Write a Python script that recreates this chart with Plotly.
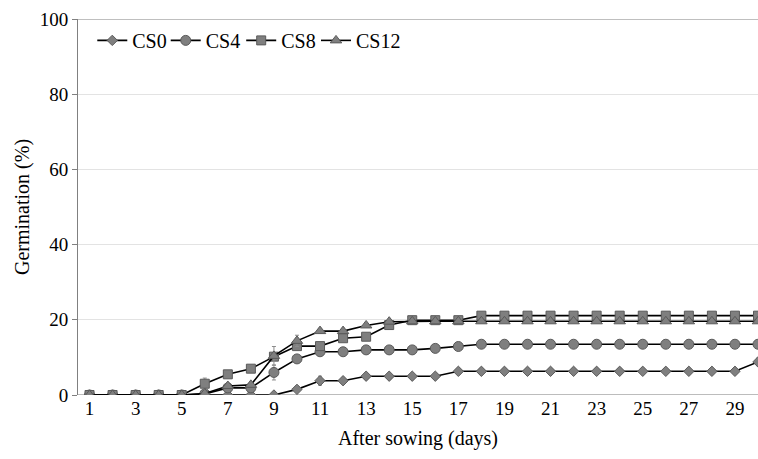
import plotly.graph_objects as go

days = list(range(1, 31))

cs0 = [0, 0, 0, 0, 0, 0, 0, 0, 0, 1.5, 3.8, 3.8, 5.0, 5.0, 5.0, 5.0, 6.3, 6.3, 6.3, 6.3,
       6.3, 6.3, 6.3, 6.3, 6.3, 6.3, 6.3, 6.3, 6.3, 8.8]
cs0_err = [0, 0, 0, 0, 0, 0, 0, 0, 0, 0.3, 1.2, 0, 0.5, 0, 0, 0, 0.5, 0, 0, 0,
           0, 0, 0, 0, 0, 0, 0, 0, 0, 1.0]
cs4 = [0, 0, 0, 0, 0, 0.3, 1.9, 1.9, 6.0, 9.6, 11.5, 11.5, 12.0, 12.0, 12.0, 12.4, 12.9, 13.5, 13.5, 13.5,
       13.5, 13.5, 13.5, 13.5, 13.5, 13.5, 13.5, 13.5, 13.5, 13.5]
cs4_err = [0, 0, 0, 0, 0, 0.3, 0.5, 0.5, 2.0, 0.8, 0.5, 0, 0, 0, 0, 0, 0, 0, 0, 0,
           0, 0, 0, 0, 0, 0, 0, 0, 0, 0]
cs8 = [0, 0, 0, 0, 0, 3.0, 5.5, 7.0, 10.2, 13.0, 13.0, 15.1, 15.5, 18.6, 19.9, 19.9, 19.9, 21.1, 21.1, 21.1,
       21.1, 21.1, 21.1, 21.1, 21.1, 21.1, 21.1, 21.1, 21.1, 21.1]
cs8_err = [0, 0, 0, 0, 0, 1.5, 0.5, 0.5, 1.0, 1.0, 0.5, 0.5, 0.5, 0.5, 0.3, 0.3, 0.3, 0.3, 0, 0,
           0, 0, 0, 0, 0, 0, 0, 0, 0, 0]
cs12 = [0, 0, 0, 0, 0, 0.4, 2.4, 2.7, 10.4, 14.4, 17.0, 17.0, 18.5, 19.5, 19.6, 19.6, 19.6, 19.6, 19.6, 19.6,
        19.6, 19.6, 19.6, 19.6, 19.6, 19.6, 19.6, 19.6, 19.6, 19.6]
cs12_err = [0, 0, 0, 0, 0, 0.5, 0.5, 0.5, 2.5, 1.5, 0.5, 0, 0, 0, 0, 0, 0, 0, 0, 0,
            0, 0, 0, 0, 0, 0, 0, 0, 0, 0]

series = [
    ("CS0", cs0, cs0_err, "diamond", 8),
    ("CS4", cs4, cs4_err, "circle", 10),
    ("CS8", cs8, cs8_err, "square", 9),
    ("CS12", cs12, cs12_err, "triangle-up", 10),
]

x_ticks = list(range(1, 30, 2))
y_ticks = [0, 20, 40, 60, 80, 100]

font_family = "Liberation Serif, Times New Roman, DejaVu Serif, serif"
legend_ids = ["legend", "legend2", "legend3", "legend4"]
legend_x = [0.021, 0.129, 0.240, 0.350]

fig = go.Figure()
for (name, vals, err, sym, sz), lid in zip(series, legend_ids):
    fig.add_trace(go.Scatter(
        x=days, y=vals, name=name, mode="lines+markers", legend=lid,
        line=dict(color="black", width=1.6),
        marker=dict(symbol=sym, size=sz, color="#7f7f7f",
                    line=dict(color="#5a5a5a", width=1)),
        error_y=dict(type="data", array=err, visible=True, color="#8c8c8c",
                     thickness=1, width=2),
    ))

legend_layout = {}
for lid, lx in zip(legend_ids, legend_x):
    legend_layout[lid] = dict(orientation="h", x=lx, y=0.995, xanchor="left", yanchor="top",
                              font=dict(family=font_family, size=20), itemwidth=30,
                              bgcolor="rgba(0,0,0,0)")

fig.update_layout(
    width=758, height=459,
    margin=dict(l=78, r=0, t=19, b=64),
    plot_bgcolor="white", paper_bgcolor="white",
    font=dict(family=font_family, size=19, color="black"),
    showlegend=True,
    xaxis=dict(range=[0.5, 30], tickmode="array", tickvals=x_ticks,
               ticktext=[str(t) for t in x_ticks], showgrid=False, zeroline=False,
               showline=False, ticks="", ticklen=0, automargin=False,
               title=dict(text="After sowing (days)", font=dict(size=20), standoff=12),
               tickfont=dict(size=19)),
    yaxis=dict(range=[0, 100], tickmode="array", tickvals=y_ticks,
               showgrid=True, gridcolor="#e3e3e3", gridwidth=1, zeroline=False,
               showline=True, linecolor="#808080", linewidth=1,
               ticks="outside", ticklen=5, tickcolor="#808080", automargin=False,
               title=dict(text="Germination (%)", font=dict(size=20), standoff=4),
               tickfont=dict(size=19)),
    **legend_layout,
)
# baseline and top border
fig.add_hline(y=0, line=dict(color="#a6a6a6", width=1.5), layer="below")
fig.add_hline(y=100, line=dict(color="#808080", width=1), layer="below")

fig.write_html("out.html", config={"displayModeBar": False},
               post_script="document.body.style.margin='0';document.body.style.padding='0';")
